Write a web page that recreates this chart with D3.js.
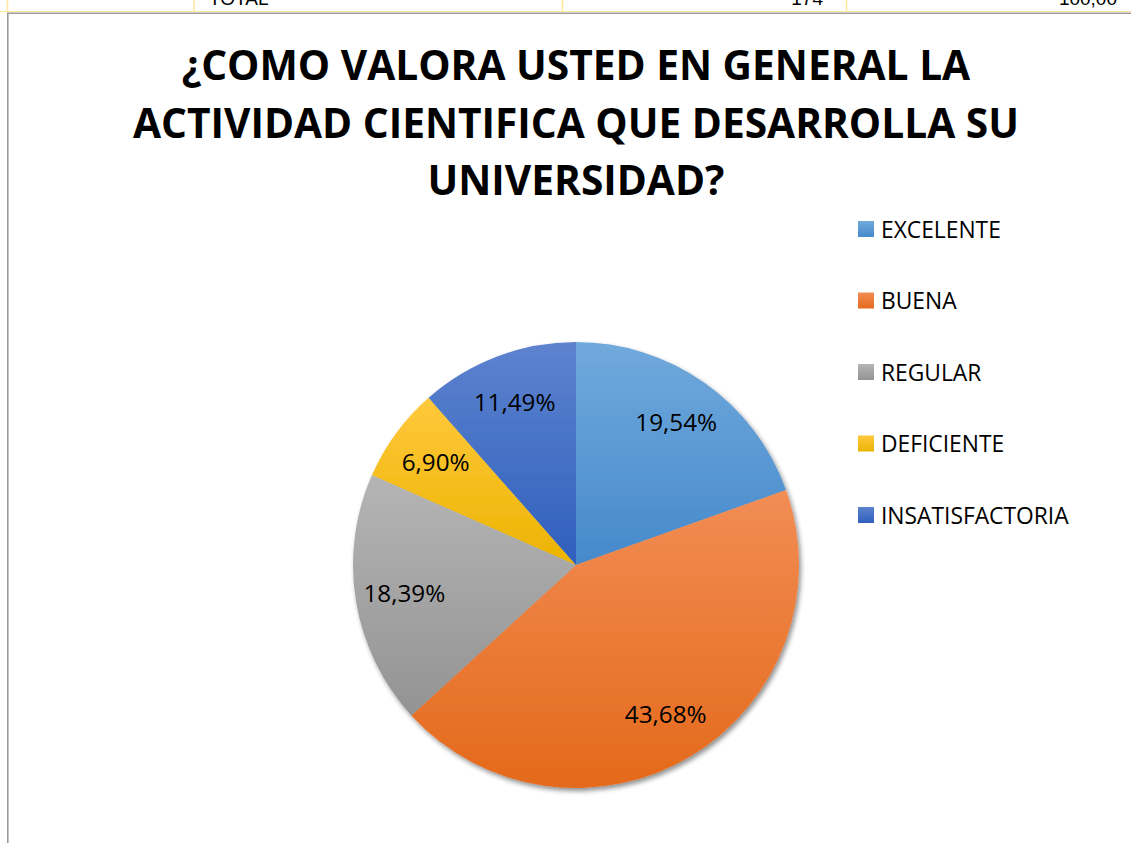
<!DOCTYPE html>
<html>
<head>
<meta charset="utf-8">
<script src="https://cdn.jsdelivr.net/npm/d3@7"></script>
<style>
  html, body { margin: 0; padding: 0; background: #fff; }
  svg { display: block; }
</style>
</head>
<body>
<div id="wrapper"></div>
<script>
// data (174 answers in total)
var categories = ["EXCELENTE", "BUENA", "REGULAR", "DEFICIENTE", "INSATISFACTORIA"];
var counts = [34, 76, 32, 12, 20];
var colorsTop = ["#70a9dc", "#f28d55", "#b5b5b5", "#ffc83c", "#5d83ce"];
var colorsBottom = ["#4689cb", "#e4691a", "#939393", "#ecb400", "#2f5fbd"];
var titleLines = ["¿COMO VALORA USTED EN GENERAL LA", "ACTIVIDAD CIENTIFICA QUE DESARROLLA SU", "UNIVERSIDAD?"];
var tableRow = ["TOTAL", "174", "100,00"];

var total = d3.sum(counts);
var dataset = categories.map(function (c, i) {
  return { name: c, value: counts[i], pct: counts[i] / total * 100, i: i };
});

var dimensions = { width: 1131, height: 843 };
var center = { x: 576, y: 565 };
var radius = 223;

var svg = d3.select("#wrapper")
  .append("svg")
  .attr("width", dimensions.width)
  .attr("height", dimensions.height);

var defs = svg.append("defs");

// one vertical gradient per slice (light on top, darker at bottom)
dataset.forEach(function (d) {
  var g = defs.append("linearGradient")
    .attr("id", "grad" + d.i)
    .attr("x1", 0).attr("y1", 0).attr("x2", 0).attr("y2", 1);
  g.append("stop").attr("offset", "0%").attr("stop-color", colorsTop[d.i]);
  g.append("stop").attr("offset", "100%").attr("stop-color", colorsBottom[d.i]);
});

var shadow = defs.append("filter").attr("id", "shadow")
  .attr("x", "-10%").attr("y", "-10%").attr("width", "120%").attr("height", "120%");
shadow.append("feGaussianBlur").attr("in", "SourceAlpha").attr("stdDeviation", 2.5);
shadow.append("feOffset").attr("dx", 2).attr("dy", 3).attr("result", "off");
shadow.append("feComponentTransfer").append("feFuncA").attr("type", "linear").attr("slope", 0.45);
var merge = shadow.append("feMerge");
merge.append("feMergeNode");
merge.append("feMergeNode").attr("in", "SourceGraphic");

// bit of the spreadsheet table peeking in at the top
var table = svg.append("g");
table.append("line").attr("x1", 0).attr("x2", dimensions.width).attr("y1", 11.5).attr("y2", 11.5)
  .attr("stroke", "#ffe699").attr("stroke-width", 1.2);
[7.5, 194, 562.5, 846.5].forEach(function (x) {
  table.append("line").attr("x1", x).attr("x2", x).attr("y1", 0).attr("y2", 12)
    .attr("stroke", "#ffe699").attr("stroke-width", 1.5);
});
table.selectAll("text")
  .data(tableRow)
  .enter()
  .append("text")
  .attr("x", function (d, i) { return [209, 823, 1117][i]; })
  .attr("y", 5)
  .attr("text-anchor", function (d, i) { return i === 0 ? "start" : "end"; })
  .style("font-family", "'Liberation Sans', Arial, sans-serif")
  .style("font-size", "19px")
  .attr("fill", "#000")
  .text(function (d) { return d; });

// chart frame
svg.append("path")
  .attr("d", "M7.8," + dimensions.height + " V13.3 H" + dimensions.width)
  .attr("fill", "none")
  .attr("stroke", "#9b9b9b")
  .attr("stroke-width", 1.6);

// squeeze/stretch Open Sans so it takes the room Calibri took
function condense(sel, k) {
  sel.each(function () {
    var w = this.getComputedTextLength();
    d3.select(this).attr("textLength", w * k).attr("lengthAdjust", "spacingAndGlyphs");
  });
}

// title
var title = svg.append("g");
title.selectAll("text")
  .data(titleLines)
  .enter()
  .append("text")
  .attr("x", center.x)
  .attr("y", function (d, i) { return 80 + i * 57.5; })
  .attr("text-anchor", "middle")
  .style("font-family", "'Open Sans', sans-serif")
  .style("font-weight", "bold")
  .style("font-size", "41.5px")
  .attr("fill", "#000")
  .text(function (d) { return d; })
  .call(condense, 0.98);

// pie
var pie = d3.pie().value(function (d) { return d.value; }).sort(null);
var arc = d3.arc().innerRadius(0).outerRadius(radius);
var labelArc = d3.arc().innerRadius(radius * 0.78).outerRadius(radius * 0.78);

var bounds = svg.append("g")
  .attr("transform", "translate(" + center.x + "," + center.y + ")");

bounds.append("g")
  .attr("filter", "url(#shadow)")
  .selectAll("path")
  .data(pie(dataset))
  .enter()
  .append("path")
  .attr("d", arc)
  .attr("fill", function (d) { return "url(#grad" + d.data.i + ")"; });

var fmt = function (v) { return v.toFixed(2).replace(".", ",") + "%"; };

bounds.selectAll(".lbl")
  .data(pie(dataset))
  .enter()
  .append("text")
  .attr("class", "lbl")
  .attr("transform", function (d) { return "translate(" + labelArc.centroid(d) + ")"; })
  .attr("text-anchor", "middle")
  .attr("dy", "0.35em")
  .style("font-family", "'Open Sans', sans-serif")
  .style("font-size", "24.5px")
  .attr("fill", "#000")
  .text(function (d) { return fmt(d.data.pct); })
  .call(condense, 0.99);

// legend
var legend = svg.append("g").attr("transform", "translate(858,229)");
var item = legend.selectAll("g")
  .data(dataset)
  .enter()
  .append("g")
  .attr("transform", function (d, i) { return "translate(0," + i * 71.5 + ")"; });
item.append("rect")
  .attr("x", 0).attr("y", -8)
  .attr("width", 16).attr("height", 16)
  .attr("fill", function (d) { return "url(#grad" + d.i + ")"; });
item.append("text")
  .attr("x", 23)
  .attr("dy", "0.36em")
  .style("font-family", "'Open Sans', sans-serif")
  .style("font-size", "24px")
  .attr("fill", "#000")
  .text(function (d) { return d.name; })
  .call(condense, 0.95);
</script>
</body>
</html>
